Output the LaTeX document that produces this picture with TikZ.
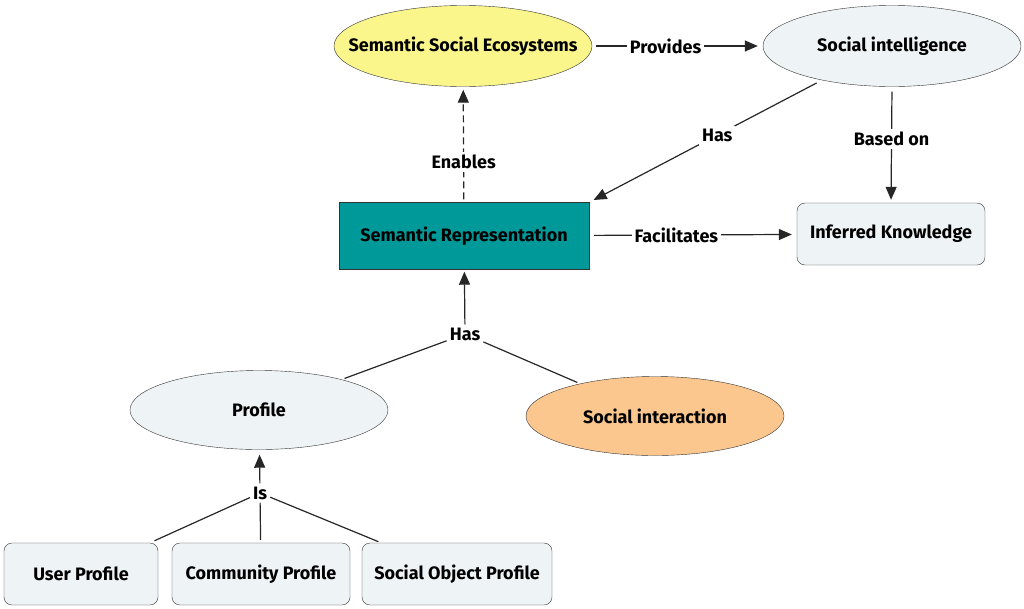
\documentclass[tikz,border=0pt]{standalone}
\usepackage{fontspec}
\setmainfont{Fira Sans}
\usetikzlibrary{shapes.geometric,arrows.meta}

\definecolor{paleblue}{HTML}{EEF3F6}
\definecolor{paleyellow}{HTML}{FAF68C}
\definecolor{peach}{HTML}{FCC68F}
\definecolor{semteal}{HTML}{009999}

\tikzset{concept/.style={ellipse,draw=black!80,fill=paleblue,inner xsep=-50pt,inner ysep=0pt,minimum width=258pt,minimum height=81pt,font=\bfseries\fontsize{18}{20}\selectfont}}
\tikzset{card/.style={rectangle,rounded corners=8pt,draw=black!80,fill=paleblue,inner xsep=2pt,minimum height=62pt,font=\bfseries\fontsize{18}{20}\selectfont}}
\tikzset{lbl/.style={fill=white,inner sep=3pt,font=\bfseries\fontsize{18}{20}\selectfont}}
\tikzset{link/.style={draw=black!85,line width=1.2pt}}
\tikzset{linkarrow/.style={link,-{Triangle[length=13pt,width=11pt]}}}

\begin{document}
\begin{tikzpicture}[x=1pt,y=-1pt]
    \useasboundingbox (0,0) rectangle (1024,608);
    % concepts
    \node[concept,fill=paleyellow] (sse)  at (463,46)  {Semantic Social Ecosystems};
    \node[concept]                 (si)   at (892,46)  {Social intelligence};
    \node[rectangle,draw=black!80,fill=semteal,minimum width=250pt,minimum height=67pt,
          font=\bfseries\fontsize{18}{20}\selectfont] (sr) at (464,236) {Semantic Representation};
    \node[card,minimum width=188pt] (ik)  at (891,234) {Inferred Knowledge};
    \node[concept,minimum height=79pt] (prof) at (259,410) {Profile};
    \node[concept,fill=peach,minimum height=79pt] (sint) at (655,416) {Social interaction};
    \node[card,minimum width=154pt] (up)  at (81,574)  {User Profile};
    \node[card,minimum width=178pt] (cp)  at (261,574) {Community Profile};
    \node[card,minimum width=190pt] (sop) at (457,574) {Social Object Profile};
    % linking phrases
    \node[lbl] (has)  at (465,334) {Has};
    \node[lbl] (is)   at (260,493) {Is};
    % links
    \draw[linkarrow,shorten <=4pt,shorten >=5pt] (sse) -- node[lbl,pos=0.43] {Provides} (si);
    \draw[linkarrow,shorten <=6pt,shorten >=5pt] (si.206) -- node[lbl,pos=0.45] {Has} (sr.north east);
    \draw[linkarrow,shorten <=5pt,shorten >=3pt] (si.south) -- node[lbl,pos=0.45] {Based on} (ik.north);
    \draw[linkarrow,shorten <=5pt,shorten >=5pt] (sr) -- node[lbl,pos=0.42] {Facilitates} (ik);
    \draw[linkarrow,dash pattern=on 7pt off 4pt,shorten <=3pt,shorten >=3pt] (sr) -- node[lbl,pos=0.35] {Enables} (sse);
    \draw[link,shorten >=3pt] (has) -- (prof);
    \draw[link,shorten >=3pt] (has) -- (sint);
    \draw[linkarrow,shorten >=2pt] (has) -- (sr);
    \draw[link,shorten >=5pt] (is) -- (up);
    \draw[link,shorten >=3pt] (is) -- (cp);
    \draw[link,shorten >=3pt] (is) -- (sop);
    \draw[linkarrow,shorten >=5pt] (is) -- (prof);
\end{tikzpicture}
\end{document}
